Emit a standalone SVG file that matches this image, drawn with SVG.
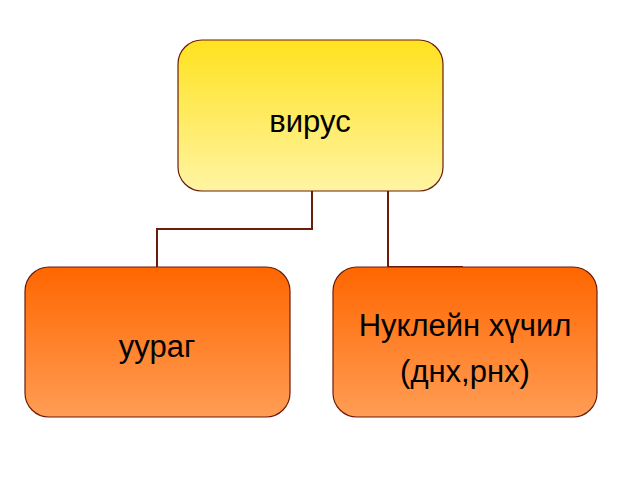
<svg xmlns="http://www.w3.org/2000/svg" width="638" height="479" viewBox="0 0 638 479">
<style>
.box{stroke:#6b1d0c;stroke-width:1.2}
.t{font-family:"Liberation Sans",Arial,sans-serif;font-size:31px;fill:#000;text-anchor:middle}
.c{fill:none;stroke:#6b1d0c;stroke-width:2}
</style>
<defs>
<linearGradient id="y" x1="0" y1="0" x2="0" y2="1"><stop offset="0" stop-color="#ffe21f"/><stop offset="1" stop-color="#fff4a3"/></linearGradient>
<linearGradient id="o" x1="0" y1="0" x2="0" y2="1"><stop offset="0" stop-color="#ff6600"/><stop offset="1" stop-color="#ff9d55"/></linearGradient>
</defs>
<rect width="638" height="479" fill="#fff"/>
<g id="connectors">
<polyline class="c" points="312,191 312,229 157,229 157,268"/>
<polyline class="c" points="388,191 388,267 463,267"/>
</g>
<g id="virus"><rect class="box" x="178" y="40" width="265" height="151" rx="24" fill="url(#y)"/><text class="t" x="310" y="132">вирус</text></g>
<g id="uurag"><rect class="box" x="25" y="267" width="265" height="150" rx="24" fill="url(#o)"/><text class="t" x="157" y="357">уураг</text></g>
<g id="nuklein"><rect class="box" x="333" y="267" width="264" height="150" rx="24" fill="url(#o)"/><text class="t" x="465" y="336">Нуклейн хүчил</text><text class="t" x="465" y="382">(днх,рнх)</text></g>
</svg>
